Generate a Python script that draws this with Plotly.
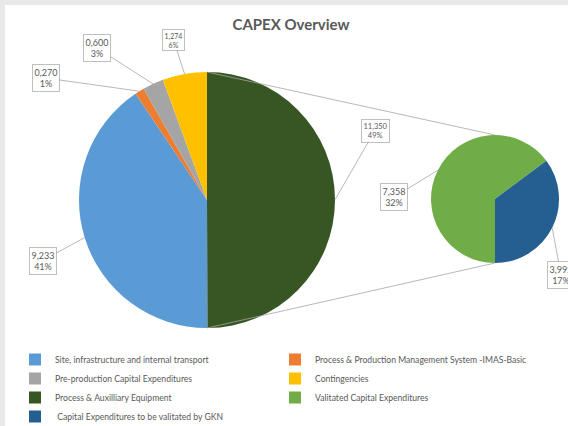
import math
import plotly.graph_objects as go

W, H = 568, 426

# ---------------- data ----------------
main_labels = [
    "Site, infrastructure and internal transport",
    "Process & Production Management System -IMAS-Basic",
    "Pre-production Capital Expenditures",
    "Contingencies",
    "Process & Auxilliary Equipment",
]
main_values = [9.233, 0.270, 0.600, 1.274, 11.350]
main_pct = ["41%", "1%", "3%", "6%", "49%"]

sub_labels = [
    "Valitated Capital Expenditures",
    " Capital Expenditures to be valitated by GKN",
]
sub_values = [7.358, 3.992]
sub_pct = ["32%", "17%"]

title_text = "CAPEX Overview"

# ---------------- style ----------------
main_colors = ["#5B9BD5", "#ED7D31", "#A5A5A5", "#FFC000", "#375623"]
sub_colors = ["#70AD47", "#255E91"]
txt_color = "#595959"
line_color = "#A6A6A6"
FONT = "Lato"

# pie geometry in pixels (center x, center y, radius)
main_geo = (207, 200, 128)
sub_geo = (495, 199, 64)

# label box centres (pixels) and font sizes
main_box = [(42.5, 260.5), (45.5, 78), (97, 48), (173.5, 40), (375, 130.5)]
main_fs = [9, 9, 9, 7, 7.5]
sub_box = [(393.5, 197.5), (561, 275)]
sub_fs = [9, 9]


def px(x):
    return x / W


def py(y):
    return 1 - y / H


def domain(geo):
    cx, cy, r = geo
    return dict(x=[px(cx - r), px(cx + r)], y=[py(cy + r), py(cy - r)])


def fmt(v):
    return f"{v:.3f}".replace(".", ",")


main_total = sum(main_values)
sub_total = sum(sub_values)
# first slice (Site) starts where the "other" slice (last) ends; that one starts at 12 o'clock
main_rot = 360 * main_values[-1] / main_total
sub_rot = 180

fig = go.Figure()
fig.add_trace(go.Pie(
    labels=main_labels, values=main_values, sort=False, direction="clockwise",
    rotation=main_rot, textinfo="none", domain=domain(main_geo),
    marker=dict(colors=main_colors, line=dict(width=0)),
))
fig.add_trace(go.Pie(
    labels=sub_labels, values=sub_values, sort=False, direction="clockwise",
    rotation=sub_rot, textinfo="none", domain=domain(sub_geo),
    marker=dict(colors=sub_colors, line=dict(width=0)),
))

annotations = []


def add_labels(values, pct, geo, rot, boxes, sizes):
    cx, cy, r = geo
    total = sum(values)
    ang = rot
    for v, p, (bx, by), fs in zip(values, pct, boxes, sizes):
        span = 360 * v / total
        mid = math.radians(ang + span / 2)
        ex = cx + r * math.sin(mid)
        ey = cy - r * math.cos(mid)
        annotations.append(dict(
            x=px(ex), y=py(ey), xref="paper", yref="paper",
            ax=bx - ex, ay=by - ey, axref="pixel", ayref="pixel",
            text=f"{fmt(v)}<br>{p}", showarrow=True, arrowhead=0,
            arrowwidth=0.8, arrowcolor=line_color, standoff=0, startstandoff=0,
            font=dict(family=FONT, size=fs, color=txt_color),
            bordercolor="#BFBFBF", borderwidth=1, borderpad=1.5, bgcolor="white",
            align="center",
        ))
        ang += span


add_labels(main_values, main_pct, main_geo, main_rot, main_box, main_fs)
add_labels(sub_values, sub_pct, sub_geo, sub_rot, sub_box, sub_fs)

# connector lines between the split edge of the main pie and the secondary pie
mcx, mcy, mr = main_geo
scx, scy, sr = sub_geo
shapes = [
    dict(type="rect", xref="paper", yref="paper", x0=px(5), x1=1.01, y0=-0.01, y1=py(5),
         fillcolor="white", line=dict(width=0), layer="below"),
    dict(type="line", xref="paper", yref="paper", x0=px(mcx), y0=py(mcy - mr),
         x1=px(scx), y1=py(scy - sr), line=dict(color=line_color, width=0.8)),
    dict(type="line", xref="paper", yref="paper", x0=px(mcx), y0=py(mcy + mr),
         x1=px(scx), y1=py(scy + sr), line=dict(color=line_color, width=0.8)),
]

fig.update_layout(
    width=W, height=H,
    margin=dict(l=0, r=0, t=0, b=0, autoexpand=False),
    paper_bgcolor="#E9E9E9",
    plot_bgcolor="white",
    title=dict(text=title_text, x=px(291), y=py(25), xanchor="center", yanchor="middle",
               xref="container", yref="container",
               font=dict(family=FONT, size=15, color=txt_color, weight="bold")),
    showlegend=True,
    legend=dict(
        orientation="h", x=px(15), y=py(345), xanchor="left", yanchor="top",
        xref="container", yref="container",
        entrywidth=215, entrywidthmode="pixels",
        font=dict(family=FONT, size=8.6, color=txt_color),
        bgcolor="rgba(0,0,0,0)", traceorder="normal",
    ),
    annotations=annotations,
    shapes=shapes,
)

fig.write_html(
    "out.html",
    config={"displayModeBar": False},
    post_script="document.body.style.margin='0';document.body.style.overflow='hidden';",
)
